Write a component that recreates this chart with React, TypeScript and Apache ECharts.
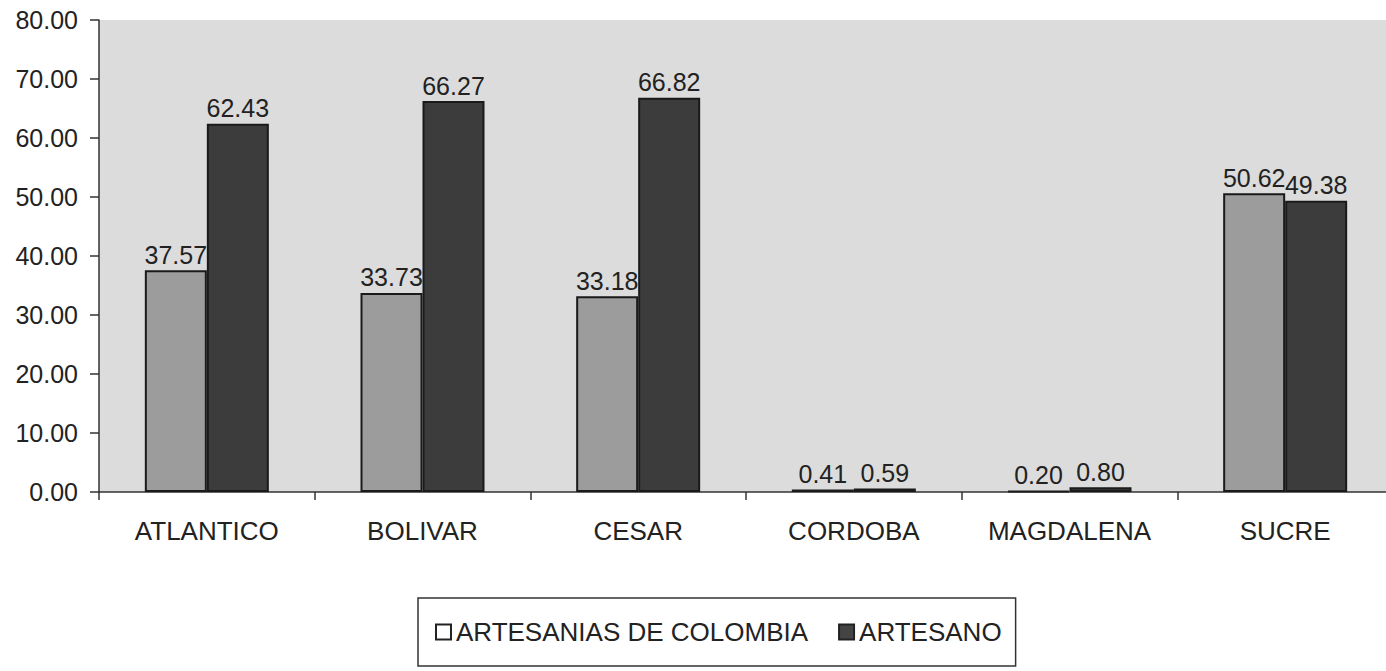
import React, { useEffect, useRef } from "react";
import * as echarts from "echarts";

const categories = ["ATLANTICO", "BOLIVAR", "CESAR", "CORDOBA", "MAGDALENA", "SUCRE"];
const artesaniasValues = [37.57, 33.73, 33.18, 0.41, 0.2, 50.62];
const artesanoValues = [62.43, 66.27, 66.82, 0.59, 0.8, 49.38];
const seriesNames = ["ARTESANIAS DE COLOMBIA", "ARTESANO"];

const FONT = "'Liberation Sans', Arial, sans-serif";

export default function App() {
  const ref = useRef<HTMLDivElement>(null);
  useEffect(() => {
    if (!ref.current) return;
    const chart = echarts.init(ref.current, undefined, { renderer: "svg" });
    const labelStyle = {
      show: true,
      position: "top" as const,
      distance: 3,
      fontSize: 25,
      fontFamily: FONT,
      color: "#222",
      formatter: (p: any) => Number(p.value).toFixed(2),
    };
    chart.setOption({
      animation: false,
      backgroundColor: "#ffffff",
      textStyle: { fontFamily: FONT },
      grid: {
        left: 99,
        top: 20,
        right: 7,
        bottom: 179,
        show: true,
        backgroundColor: "#dcdcdc",
        borderWidth: 0,
      },
      legend: {
        left: 418,
        top: 598,
        orient: "horizontal",
        itemWidth: 15,
        itemHeight: 15,
        itemGap: 30,
        padding: [21, 14, 21, 17],
        borderColor: "#333",
        borderWidth: 1.5,
        textStyle: { fontSize: 26, color: "#222", fontFamily: FONT },
        data: [
          { name: seriesNames[0], icon: "rect", itemStyle: { color: "#ffffff", borderColor: "#222", borderWidth: 2 } },
          { name: seriesNames[1], icon: "rect", itemStyle: { color: "#444", borderColor: "#222", borderWidth: 2 } },
        ],
      },
      xAxis: {
        type: "category",
        data: categories,
        axisLine: { show: true, lineStyle: { color: "#333", width: 1.5 } },
        axisTick: { show: true, length: 8, lineStyle: { color: "#333", width: 1.5 } },
        axisLabel: { fontSize: 26, color: "#222", fontFamily: FONT, margin: 26 },
      },
      yAxis: {
        type: "value",
        min: 0,
        max: 80,
        interval: 10,
        splitLine: { show: false },
        axisLine: { show: true, lineStyle: { color: "#333", width: 1.5 } },
        axisTick: { show: true, length: 9, lineStyle: { color: "#333", width: 1.5 } },
        axisLabel: {
          fontSize: 25,
          color: "#222",
          fontFamily: FONT,
          margin: 21,
          formatter: (v: number) => v.toFixed(2),
        },
      },
      series: [
        {
          name: seriesNames[0],
          type: "bar",
          data: artesaniasValues,
          barWidth: 62,
          barGap: "0%",
          itemStyle: { color: "#9c9c9c", borderColor: "#1a1a1a", borderWidth: 2 },
          label: labelStyle,
        },
        {
          name: seriesNames[1],
          type: "bar",
          data: artesanoValues,
          barWidth: 62,
          barGap: "0%",
          itemStyle: { color: "#3c3c3c", borderColor: "#1a1a1a", borderWidth: 2 },
          label: labelStyle,
        },
      ],
    });
    return () => chart.dispose();
  }, []);
  return (
    <div style={{ position: "fixed", left: 0, top: 0, right: 0, bottom: 0, overflow: "hidden", background: "#fff" }}>
      <div ref={ref} style={{ width: 1400, height: 671 }} />
    </div>
  );
}
